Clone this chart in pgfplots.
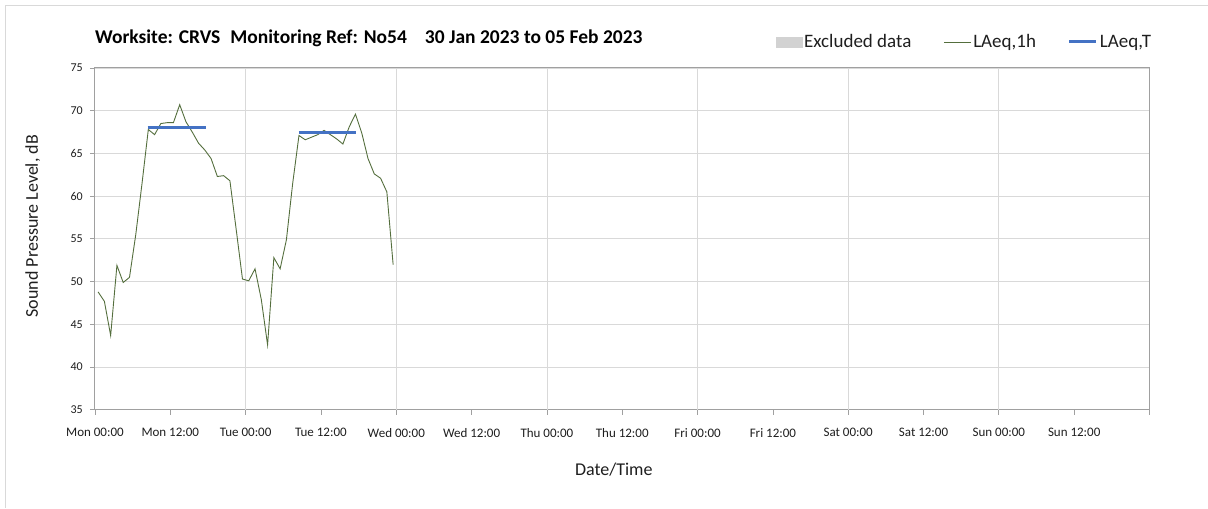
\documentclass[border=0pt]{standalone}
\usepackage{pgfplots}
\pgfplotsset{compat=1.18}
\usepackage{fontspec}
\setmainfont{Carlito}
\definecolor{lineg}{RGB}{84,110,61}
\definecolor{lblue}{RGB}{68,114,196}
\definecolor{gridc}{RGB}{217,217,217}
\definecolor{axc}{RGB}{160,160,160}
\definecolor{exc}{RGB}{210,210,210}
\definecolor{txt}{RGB}{30,30,30}
\pgfplotsset{shortline/.style={legend image code/.code={\draw[##1] (0pt,0pt) -- (27pt,0pt);}}}
\pgfplotstableread{
h db
0.5 48.8
1.5 47.7
2.5 43.7
3.5 51.9
4.5 49.9
5.5 50.5
6.5 55.5
7.5 61.5
8.5 67.8
9.5 67.2
10.5 68.5
11.5 68.6
12.5 68.6
13.5 70.7
14.5 68.7
15.5 67.5
16.5 66.2
17.5 65.4
18.5 64.4
19.5 62.3
20.5 62.4
21.5 61.8
22.5 56.1
23.5 50.3
24.5 50.1
25.5 51.5
26.5 47.9
27.5 42.6
28.5 52.8
29.5 51.5
30.5 54.9
31.5 61.5
32.5 67.1
33.5 66.6
34.5 66.9
35.5 67.2
36.5 67.7
37.5 67.2
38.5 66.7
39.5 66.1
40.5 68.1
41.5 69.6
42.5 67.4
43.5 64.4
44.5 62.6
45.5 62.1
46.5 60.5
47.5 52.0
}\laeqh
\begin{document}
\begin{tikzpicture}[x=1pt,y=1pt]
\path (0,0) rectangle (1208,508);
\draw[gridc, line width=1pt] (6,0) -- (6,502) -- (1208,502);
\begin{axis}[
 at={(95pt,98pt)}, anchor=south west,
 scale only axis, width=1055pt, height=342pt,
 xmin=0, xmax=168, ymin=35, ymax=75,
 xtick={0,12,...,168},
 xticklabels={Mon 00:00, Mon 12:00, Tue 00:00, Tue 12:00, Wed 00:00, Wed 12:00, Thu 00:00, Thu 12:00, Fri 00:00, Fri 12:00, Sat 00:00, Sat 12:00, Sun 00:00, Sun 12:00, {}},
 ytick={35,40,...,75},
 extra x ticks={24,48,...,144},
 extra x tick labels={},
 extra x tick style={grid=major, major tick length=0pt},
 ymajorgrids, grid style={gridc, line width=0.8pt},
 axis line style={axc, line width=1pt},
 tick style={axc, line width=0.8pt},
 tick align=outside, major tick length=5pt,
 xtick pos=bottom, ytick pos=left,
 /pgf/number format/assume math mode=true,
 xticklabel style={font=\fontsize{13}{15}\selectfont, text=txt, inner sep=0pt, anchor=center, yshift=-18pt},
 yticklabel style={font=\fontsize{12}{14}\selectfont, text=txt, inner sep=0pt, anchor=east, xshift=-7pt},
 title={Worksite: CRVS\hspace*{10pt}Monitoring Ref: No54\hspace*{18pt}30 Jan 2023 to 05 Feb 2023},
 title style={at={(axis description cs:0,1)}, anchor=west, yshift=24pt, inner sep=0pt, font=\fontsize{19.5}{22}\selectfont\bfseries, text=black},
 xlabel={Date/Time},
 xlabel style={at={(axis description cs:0.492,0)}, anchor=center, yshift=-60pt, font=\fontsize{18}{20}\selectfont, text=txt},
 ylabel={Sound Pressure Level, dB},
 ylabel style={at={(axis description cs:-0.059,0.537)}, anchor=center, font=\fontsize{18}{20}\selectfont, text=txt},
 legend columns=3,
 legend style={at={(axis description cs:0.6425,1.076)}, anchor=west, draw=none, fill=none,
   font=\fontsize{19}{21}\selectfont, text=txt,
   nodes={inner xsep=2pt, inner ysep=0pt},
   /tikz/every even column/.append style={column sep=30pt}},
]
\addlegendimage{legend image code/.code={\fill[exc] (0pt,-5pt) rectangle (26pt,5pt);}}
\addlegendentry{Excluded data}
\addplot[lineg, line width=0.9pt, shortline] table[x=h, y=db] {\laeqh};
\addlegendentry{LAeq,1h}
\addplot[lblue, line width=3pt, shortline] coordinates {(8.4,68.0) (17.7,68.0)};
\addlegendentry{LAeq,T}
\addplot[lblue, line width=3pt, forget plot] coordinates {(32.5,67.4) (41.6,67.4)};
\end{axis}
\end{tikzpicture}
\end{document}
